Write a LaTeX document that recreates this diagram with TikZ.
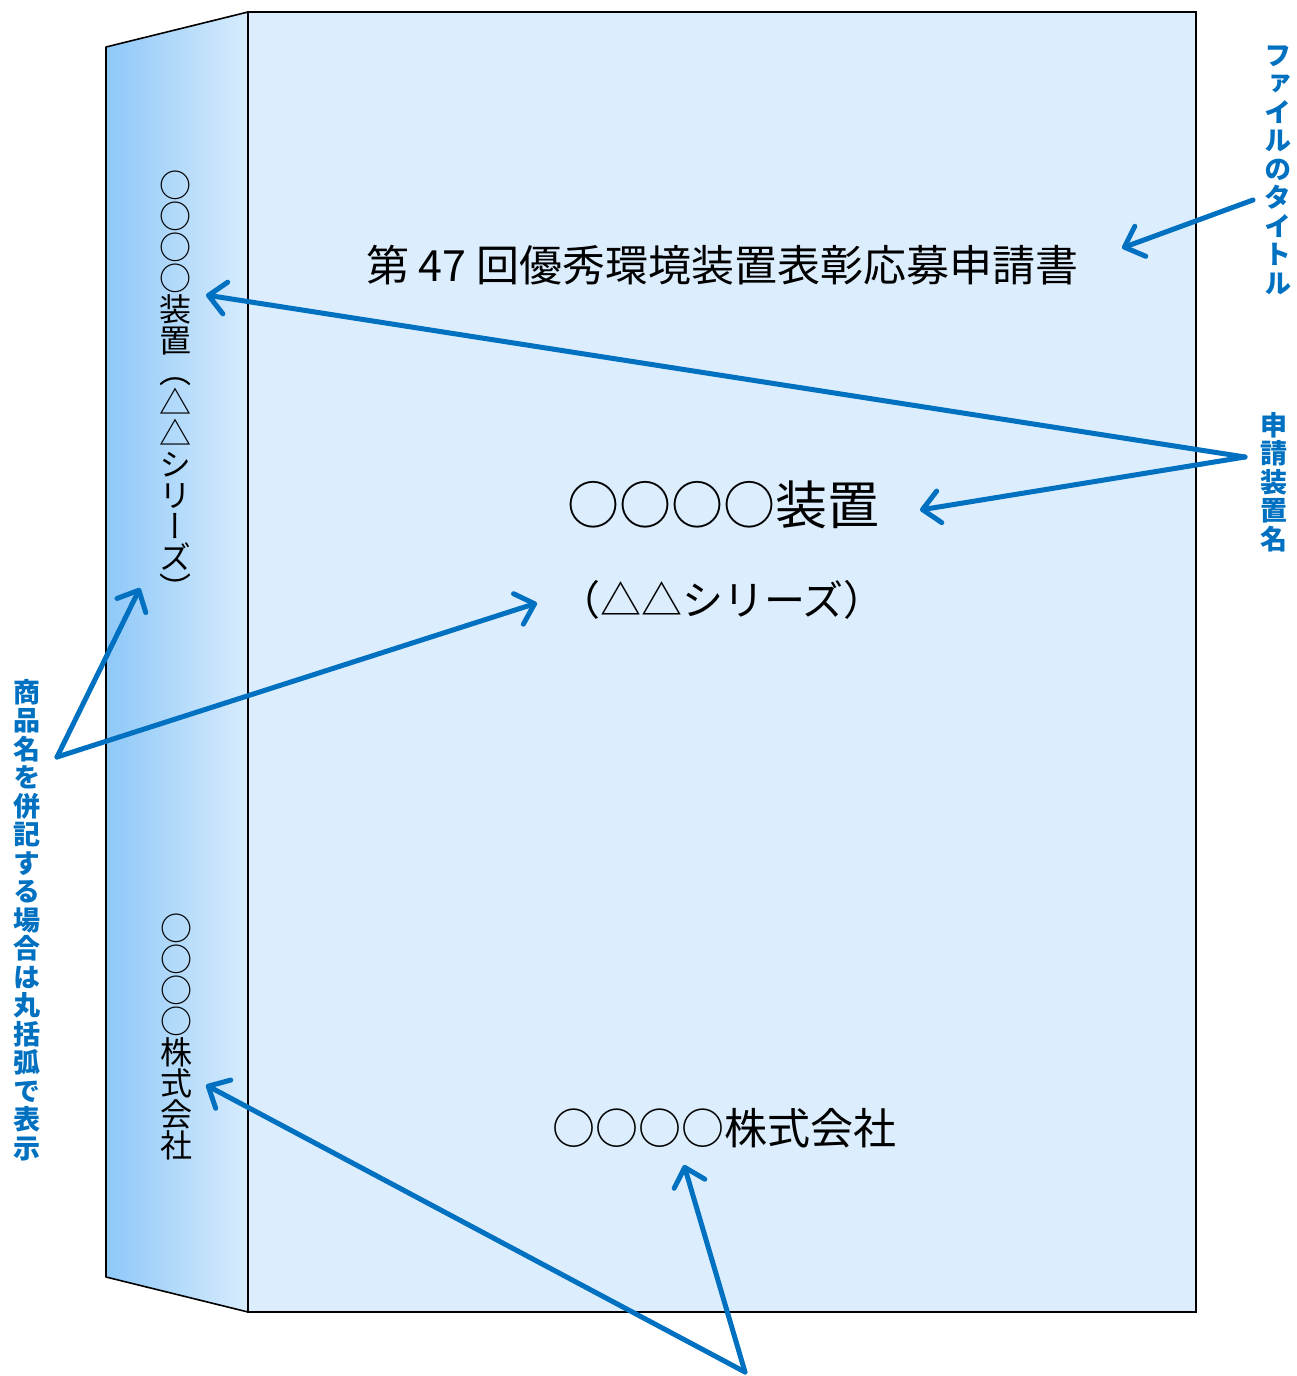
\documentclass[tikz,border=0pt]{standalone}
\usepackage{fontspec}
\setmainfont{Noto Sans CJK JP}
\newfontfamily\vfont[RawFeature=+vert]{Noto Sans CJK JP}
\usetikzlibrary{arrows.meta}
\definecolor{arrowblue}{RGB}{0,112,192}
\definecolor{cover}{RGB}{220,238,253}
\definecolor{spineL}{RGB}{142,200,248}
\definecolor{spineR}{RGB}{216,236,253}
\newcommand\tightlines{\lineskiplimit=-50pt\relax}
\tikzset{
  ptr/.style={draw=arrowblue, line width=5pt, line cap=round, line join=round,
    -{Straight Barb[length=17pt,width=32pt,line cap=round,line join=round]}},
  vtext/.style={inner sep=0pt, align=center},
  bluelabel/.style={vtext, text=arrowblue, font=\vfont\bfseries\fontsize{27}{28.5}\selectfont\tightlines},
  covertext/.style={inner sep=0pt, text=black}
}
\begin{document}
\begin{tikzpicture}[x=1pt,y=-1pt]
\useasboundingbox (0,0) rectangle (1296,1376);
% spine
\shade[left color=spineL, right color=spineR] (106,47) -- (248,12) -- (248,1312) -- (106,1277) -- cycle;
\draw[line width=1.6pt, line join=round] (248,12) -- (106,47) -- (106,1277) -- (248,1312);
% front cover
\draw[fill=cover, line width=1.3pt] (248,12) rectangle (1196,1312);
% front texts
\node[covertext, font=\fontsize{43}{43}\selectfont] (title) at (722,265) {第 47 回優秀環境装置表彰応募申請書};
\node[covertext, font=\fontsize{52}{52}\selectfont] (name) at (723,505) {○○○○装置};
\node[covertext, font=\fontsize{41}{41}\selectfont] (series) at (722,600) {（△△シリーズ）};
\node[covertext, font=\fontsize{43}{43}\selectfont] (company) at (724,1128) {○○○○株式会社};
% spine texts
\node[vtext, font=\vfont\fontsize{32}{31}\selectfont\tightlines] (spname) at (175,386)
  {○\\○\\○\\○\\装\\置\\（\\△\\△\\シ\\リ\\ー\\ズ\\）};
\node[vtext, font=\vfont\fontsize{32}{31}\selectfont\tightlines] (spcomp) at (176,1037)
  {○\\○\\○\\○\\株\\式\\会\\社};
% blue labels
\node[bluelabel] (lbltitle) at (1278,170) {フ\\ァ\\イ\\ル\\の\\タ\\イ\\ト\\ル};
\node[bluelabel] (lblname) at (1274,482) {申\\請\\装\\置\\名};
\node[bluelabel] (lblseries) at (27,920) {商\\品\\名\\を\\併\\記\\す\\る\\場\\合\\は\\丸\\括\\弧\\で\\表\\示};
% arrow ends
\coordinate (titlestart) at (1253,200);
\coordinate (titletip) at (1122,248);
\coordinate (namefork) at (1245,457);
\coordinate (namespine) at (206,295);
\coordinate (namefront) at (920,510);
\coordinate (seriesfork) at (57,757);
\coordinate (seriesspine) at (140,588);
\coordinate (seriesfront) at (537,603);
\coordinate (compfork) at (745,1372);
\coordinate (compspine) at (206,1085);
\coordinate (compfront) at (684,1165);
% arrows
\draw[ptr] (titlestart) -- (titletip);
\draw[ptr] (namefork) -- (namespine);
\draw[ptr] (namefork) -- (namefront);
\draw[ptr] (seriesfork) -- (seriesspine);
\draw[ptr] (seriesfork) -- (seriesfront);
\draw[ptr] (compfork) -- (compspine);
\draw[ptr] (compfork) -- (compfront);
\end{tikzpicture}
\end{document}
